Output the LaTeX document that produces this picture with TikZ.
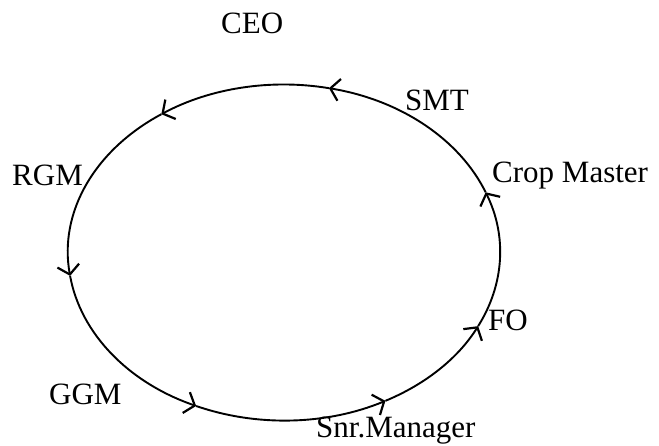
\documentclass[tikz,border=0pt]{standalone}
\usepackage{fontspec}
\setmainfont{Liberation Serif}
\usetikzlibrary{arrows.meta}
\begin{document}
\begin{tikzpicture}[x=1pt,y=-1pt,
  lbl/.style={anchor=base west,inner sep=0pt,font=\fontsize{31}{36}\selectfont},
  ring/.style={line width=1.9pt,black,
    -{Straight Barb[length=9pt,width=22pt,line width=2.2pt]}},
  ell/.style={x radius=216pt,y radius=168pt}]
\useasboundingbox (0,0) rectangle (659,445);

% labels of the cycle
\node[lbl] (ceo) at (221,33) {CEO};
\node[lbl] (smt) at (405,110) {SMT};
\node[lbl] (crop) at (492,182) {Crop Master};
\node[lbl] (rgm) at (12,185) {RGM};
\node[lbl] (fo) at (488,330) {FO};
\node[lbl] (ggm) at (49,404) {GGM};
\node[lbl] (snr) at (316,437) {Snr.Manager};

% points on the elliptical cycle
\coordinate (O) at (284,252.5);
\path (O) ++(21:216pt and 168pt) coordinate (pcrop);
\path (O) ++(78:216pt and 168pt) coordinate (psmt);
\path (O) ++(124.6:216pt and 168pt) coordinate (pceo);
\path (O) ++(188:216pt and 168pt) coordinate (prgm);
\path (O) ++(246:216pt and 168pt) coordinate (pggm);
\path (O) ++(298:216pt and 168pt) coordinate (psnr);
\path (O) ++(334:216pt and 168pt) coordinate (pfo);

% arcs of the cycle, each ending in an arrowhead
\draw[ring] (pfo) arc[ell,start angle=-26,end angle=21];
\draw[ring] (pcrop) arc[ell,start angle=21,end angle=78];
\draw[ring] (psmt) arc[ell,start angle=78,end angle=124.6];
\draw[ring] (pceo) arc[ell,start angle=124.6,end angle=188];
\draw[ring] (prgm) arc[ell,start angle=188,end angle=246];
\draw[ring] (pggm) arc[ell,start angle=246,end angle=298];
\draw[ring] (psnr) arc[ell,start angle=298,end angle=334];
\end{tikzpicture}
\end{document}
